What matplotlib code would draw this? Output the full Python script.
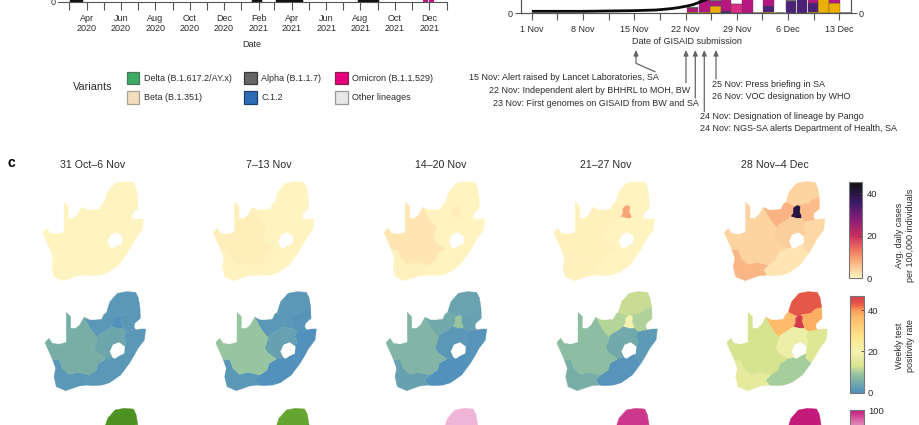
import matplotlib
matplotlib.use('Agg')
import matplotlib.pyplot as plt
import matplotlib.dates as mdates
import numpy as np
from datetime import date
from matplotlib.cm import ScalarMappable
from matplotlib.colors import LinearSegmentedColormap, Normalize
from matplotlib.patches import Polygon, Rectangle

plt.rcParams['font.family'] = ['Liberation Sans', 'DejaVu Sans']
W, H = 920, 425
TEXT = '#2b2b2b'
AXIS = '#555555'

# panel a, only the foot of it is left in the crop
a_low_dates = ['2020-03-05', '2020-03-22', '2021-01-22', '2021-02-04', '2021-03-05', '2021-04-17', '2021-07-30', '2021-08-30']
a_low_values = [0.2, 0.2, 0.2, 0.2, 0.2, 0.2, 0.2, 0.2]
a_omicron_dates = ['2021-11-25', '2021-12-05']
a_omicron_values = [3, 3]

# panel b, bars on GISAID submission date (days after 1 Nov)
b_bar_days = [21.98, 23.53, 25.05, 26.53, 28.0, 29.44, 30.8, 32.3, 33.9, 35.4, 36.9, 38.4, 39.85, 41.35, 42.8]
b_amber = [1.5, 1.5, 10.5, 0, 0, 0, 0, 2.5, 0, 0, 0, 1.5, 100, 15, 0]
b_purple = [0, 0, 0, 4, 0, 0, 0, 8, 0, 19, 100, 14, 0, 0, 0]
b_magenta = [6.5, 98.5, 8.5, 96, 1, 100, 0, 89.5, 0, 0, 0, 84.5, 0, 85, 0]
b_pink = [0, 0, 0, 0, 13.5, 0, 0, 0, 0, 0, 0, 0, 0, 0, 0]
b_grey = [1.5, 0, 81, 0, 0, 0, 0, 0, 0, 81, 0, 0, 0, 0, 0]
b_line_days = [0, 7, 14, 17, 19, 20, 21, 22, 23, 24, 25]
b_line_values = [30, 30, 40, 50, 70, 85, 105, 130, 170, 215, 260]
b_tick_labels = ['1 Nov', '8 Nov', '15 Nov', '22 Nov', '29 Nov', '6 Dec', '13 Dec']
b_tick_days = [0, 7, 14, 21, 28, 35, 42]

variants = ['Delta (B.1.617.2/AY.x)', 'Beta (B.1.351)', 'Alpha (B.1.1.7)', 'C.1.2', 'Omicron (B.1.1.529)', 'Other lineages']
variant_colors = ['#3CAA64', '#F5DDBF', '#666666', '#2E6DB5', '#E6007E', '#E8E8E8']
variant_edges = ['#4a7a5c', '#a8a090', '#3a3a3a', '#1d3f6f', '#8a2050', '#999999']

left_notes = ['15 Nov: Alert raised by Lancet Laboratories, SA',
              '22 Nov: Independent alert by BHHRL to MOH, BW',
              '23 Nov: First genomes on GISAID from BW and SA']
right_notes = ['25 Nov: Press briefing in SA', '26 Nov: VOC designation by WHO',
               '24 Nov: Designation of lineage by Pango', '24 Nov: NGS-SA alerts Department of Health, SA']

weeks = ['31 Oct\u20136 Nov', '7\u201313 Nov', '14\u201320 Nov', '21\u201327 Nov', '28 Nov\u20134 Dec']

# province outlines, shared vertices so the maps have no gaps
provinces = {
    'LP': [(203, 82), (208, 65), (213, 50), (235, 25), (262, 20), (290, 22), (298, 38), (303, 68), (285, 72), (270, 85), (240, 90), (230, 95)],
    'NW': [(135, 97), (152, 105), (170, 105), (188, 103), (195, 88), (203, 82), (230, 95), (225, 100), (225, 115), (218, 125), (205, 135), (180, 150), (175, 158), (160, 140), (150, 125)],
    'GP': [(225, 100), (230, 95), (240, 90), (247, 95), (245, 110), (250, 122), (250, 130), (235, 130), (218, 125), (225, 115)],
    'MP': [(240, 90), (270, 85), (285, 72), (303, 68), (304, 100), (287, 115), (285, 125), (290, 135), (262, 140), (250, 130), (250, 122), (245, 110), (247, 95)],
    'KZN': [(262, 140), (290, 135), (305, 132), (320, 132), (316, 165), (297, 190), (285, 212), (271, 235), (255, 222), (255, 205), (258, 185), (262, 170), (255, 155)],
    'FS': [(175, 158), (180, 150), (205, 135), (218, 125), (235, 130), (250, 130), (262, 140), (255, 155), (262, 170), (258, 185), (240, 172), (222, 180), (214, 200), (222, 218), (200, 222), (195, 218), (175, 205), (165, 190)],
    'EC': [(135, 285), (150, 270), (172, 255), (178, 235), (200, 222), (222, 218), (228, 220), (240, 212), (255, 205), (255, 222), (271, 235), (245, 270), (212, 293), (190, 300), (160, 302), (145, 300)],
    'WC': [(48, 225), (60, 222), (70, 250), (90, 268), (115, 262), (130, 265), (150, 270), (135, 285), (145, 300), (120, 303), (100, 310), (80, 317), (52, 305), (45, 275), (50, 250), (40, 222)],
    'NC': [(18, 173), (30, 160), (40, 175), (60, 178), (82, 172), (82, 82), (95, 95), (95, 130), (110, 130), (122, 120), (135, 97), (150, 125), (160, 140), (175, 158), (165, 190), (175, 205), (195, 218), (200, 222), (178, 235), (172, 255), (150, 270), (130, 265), (115, 262), (90, 268), (70, 250), (60, 222), (48, 225), (40, 222), (30, 200)],
}
lesotho = [(213, 200), (222, 180), (240, 173), (256, 185), (255, 205), (240, 212), (228, 220), (222, 218)]

# per week, province order LP NW GP MP KZN FS EC WC NC
province_order = ['LP', 'NW', 'GP', 'MP', 'KZN', 'FS', 'EC', 'WC', 'NC']
cases = [[.2, .3, .3, .2, .2, .3, .2, .3, .5],
         [.2, .3, .4, .2, .2, .3, .3, .5, 1.0],
         [.3, .5, 1, .4, .3, .5, .4, .7, 2.0],
         [.5, .8, 9, .5, .3, .5, .5, .8, .8],
         [4, 7.5, 40, 6.5, 3.5, 4.5, 2, 7, 4]]
positivity = [[1.5, 1.5, .5, 1.5, 1.5, 4, 1.5, 1.5, 5.5],
              [1.5, 1.5, 1.5, 1, .5, 3, .5, 1.5, 9],
              [3.5, 4.5, 9, 3, 1, 1.5, .5, 3, 6.5],
              [12, 11, 20, 10.5, 2, 4.5, 1, 5.5, 8],
              [43, 36, 47, 38, 14, 18, 10, 16, 13]]
sgtf = [[0, 0, 0, 3, 0, 0, 0, 0, 0],
        [6, 6, 6, 0, 6, 6, 6, 6, 6],
        [75, 75, 75, 75, 75, 75, 75, 75, 75],
        [96, 96, 96, 96, 96, 96, 96, 96, 96],
        [100, 100, 100, 100, 100, 100, 100, 100, 100]]

case_cmap = LinearSegmentedColormap.from_list('cases', [(0, '#FFF6C2'), (4 / 46, '#FDD39F'), (10 / 46, '#F79B6C'), (15 / 46, '#E8655E'),
                                                        (20 / 46, '#CC2E60'), (28 / 46, '#8A1E7A'), (36 / 46, '#3B1A6A'), (1, '#111111')])
pos_cmap = LinearSegmentedColormap.from_list('pos', [(0, '#4F8FBE'), (5 / 47, '#76ACA8'), (9 / 47, '#96C5A0'), (13 / 47, '#D9E58F'),
                                                     (20 / 47, '#F4F2B0'), (27 / 47, '#FDE68A'), (37 / 47, '#FDB768'), (40 / 47, '#FB9A58'),
                                                     (43 / 47, '#E65948'), (1, '#D43D4D')])
sgtf_cmap = LinearSegmentedColormap.from_list('sgtf', plt.get_cmap('PiYG_r')(np.linspace(0.1, 0.9, 64)))


def px_axes(x0, y0, x1, y1):
    return fig.add_axes([x0 / W, 1 - y1 / H, (x1 - x0) / W, (y1 - y0) / H])


fig = plt.figure(figsize=(W / 100, H / 100), dpi=100)

# a
ax_a = px_axes(58, 0, 446.5, 1.5)
ax_a.patch.set_alpha(0)
ax_a.set_xlim(date(2020, 2, 10), date(2022, 1, 1))
ax_a.set_ylim(0, 1)
low = [date.fromisoformat(d) for d in a_low_dates]
for i in range(0, len(low), 2):
    ax_a.plot(low[i:i + 2], a_low_values[i:i + 2], color='#111111', lw=2.5)
ax_a.bar([date.fromisoformat(d) for d in a_omicron_dates], a_omicron_values, width=8, color='#C5167F')
ax_a.xaxis.set_major_locator(mdates.MonthLocator(bymonth=[2, 4, 6, 8, 10, 12]))
ax_a.xaxis.set_major_formatter(mdates.DateFormatter('%b\n%Y'))
ax_a.xaxis.set_minor_locator(mdates.MonthLocator(bymonth=[1, 3, 5, 7, 9, 11]))
ax_a.tick_params(axis='x', which='both', length=6, width=0.8, color=AXIS, labelsize=6.5, labelcolor=TEXT, pad=2.8)
ax_a.set_yticks([0])
ax_a.tick_params(axis='y', length=0, labelsize=6.5, labelcolor=TEXT, pad=2)
for s in ['top', 'left', 'right']:
    ax_a.spines[s].set_visible(False)
ax_a.spines['bottom'].set_color(AXIS)
ax_a.spines['bottom'].set_linewidth(0.8)

# b
ax_b = px_axes(520.5, 0, 850.7, 13.3)
ax_b.set_xlim(-1.55, 43.55)
ax_b.set_ylim(0, 20)
bottom = np.zeros(len(b_bar_days))
for vals, col in [(b_amber, '#EBB000'), (b_purple, '#4A2378'), (b_magenta, '#B5167F'), (b_pink, '#DA2D85'), (b_grey, '#7A7A7A')]:
    ax_b.bar(b_bar_days, vals, 1.47, bottom=bottom, color=col, edgecolor='#5a4a50', linewidth=0.25)
    bottom += np.array(vals)
ax_b.set_xticks(b_tick_days, b_tick_labels)
ax_b.set_xticks(np.arange(3.5, 43, 7), minor=True)
ax_b.tick_params(axis='x', which='both', length=5, width=0.8, color=AXIS, labelsize=6.5, labelcolor=TEXT, pad=3.2)
ax_b.set_yticks([0])
ax_b.tick_params(axis='y', length=4, width=0.8, color=AXIS, labelsize=6.5, labelcolor=TEXT, pad=2)
ax_b.spines['top'].set_visible(False)
ax_b2 = ax_b.twinx()
ax_b2.set_ylim(0, 200)
ax_b2.plot(b_line_days, b_line_values, color='#0a0a0a', lw=2.0, solid_capstyle='butt')
ax_b2.set_yticks([0])
ax_b2.tick_params(axis='y', length=4, width=0.8, color=AXIS, labelsize=6.5, labelcolor=TEXT, pad=2)
ax_b2.spines['top'].set_visible(False)
for ax in [ax_b, ax_b2]:
    for s in ['left', 'right', 'bottom']:
        ax.spines[s].set_color(AXIS)
        ax.spines[s].set_linewidth(0.8)

# c, choropleths
map_rows = [(cases, case_cmap, Normalize(0, 45.5), 181, [42.7, 213.3, 384, 554, 724.3]),
            (positivity, pos_cmap, Normalize(0, 47), 291, [45, 215.7, 386, 556.7, 726.7]),
            (sgtf, sgtf_cmap, Normalize(0, 100), 407.7, [42.7, 214, 382.6, 554, 726])]
for values, cmap, norm, y0, offsets in map_rows:
    for week, x0 in enumerate(offsets):
        ax = px_axes(x0, y0, x0 + 102, y0 + 102)
        ax.set_xlim(18, 324)
        ax.set_ylim(324, 18)
        ax.axis('off')
        for name, v in zip(province_order, values[week]):
            col = cmap(norm(v))
            ax.add_patch(Polygon(provinces[name], closed=True, facecolor=col, edgecolor=col, linewidth=0.3))
        ax.add_patch(Polygon(lesotho, closed=True, facecolor='white', edgecolor='white', linewidth=0.3, zorder=5))

# colour bars
cbar_rows = [(case_cmap, Normalize(0, 45.5), (849, 181.7, 862.3, 278.3), [0, 20, 40]),
             (pos_cmap, Normalize(0, 47), (850, 295.7, 863.7, 392.7), [0, 20, 40]),
             (sgtf_cmap, Normalize(0, 100), (850, 410, 864, 507), [100])]
for cmap, norm, box, ticks in cbar_rows:
    cax = px_axes(*box)
    cb = fig.colorbar(ScalarMappable(norm=norm, cmap=cmap), cax=cax, ticks=ticks)
    cb.outline.set_edgecolor('#777777')
    cb.outline.set_linewidth(0.8)
    cb.ax.tick_params(length=2, width=0.6, color='#444444', direction='in', labelsize=6.8, labelcolor=TEXT, pad=3)

# overlay in pixel units for labels and arrows
ov = fig.add_axes([0, 0, 1, 1], zorder=10)
ov.set_xlim(0, W)
ov.set_ylim(H, 0)
ov.axis('off')


def label(x, y, s, size=6.5, ha='left', va='center', **kw):
    ov.text(x, y, s, fontsize=size, ha=ha, va=va, color=kw.pop('color', TEXT), **kw)


label(252, 44.5, 'Date', ha='center')
label(686.7, 41.7, 'Date of GISAID submission', ha='center')

# legend
label(73, 86.5, 'Variants', size=7.8)
legend_x = [127, 127, 244.3, 244.3, 335.3, 335.3]
legend_y = [71.7, 91, 71.7, 91, 71.7, 91]
for x, y, name, col, edge in zip(legend_x, legend_y, variants, variant_colors, variant_edges):
    ov.add_patch(Rectangle((x, y), 12.5, 12.5, facecolor=col, edgecolor=edge, linewidth=0.9))
    label(x + 17.2, y + 6.3, name)

# event notes
for y, right, s in zip([77, 90, 103.7], [659, 690.7, 699], left_notes):
    label(right, y, s, ha='right')
for y, left, s in zip([84.7, 96.7, 116, 128.3], [711.7, 711.7, 700, 700], right_notes):
    label(left, y, s)
arrow = dict(arrowstyle='-|>,head_width=0.14,head_length=0.32', color='#666666', lw=0.9, shrinkA=0, shrinkB=0)
ov.plot([655, 636, 636], [71.7, 63.3, 56], color='#666666', lw=0.9)
ov.annotate('', xy=(636, 50), xytext=(636, 57), arrowprops=arrow)
for x, y in [(686, 82.7), (695.3, 98), (704.3, 111.7), (716, 79)]:
    ov.annotate('', xy=(x, 50), xytext=(x, y), arrowprops=arrow)

# panel c headings
label(7.5, 163, 'c', size=10, weight='bold', color='black')
for x, s in zip([92.7, 268.7, 441, 605.7, 775], weeks):
    label(x, 165, s, size=7.7, ha='center')
label(900, 235, 'Avg. daily cases', rotation=90, ha='center')
label(911, 235, 'per 100,000 individuals', rotation=90, ha='center')
label(900, 346, 'Weekly test', rotation=90, ha='center')
label(911, 346, 'positivity rate', rotation=90, ha='center')

fig.savefig('out.png', dpi=100)
